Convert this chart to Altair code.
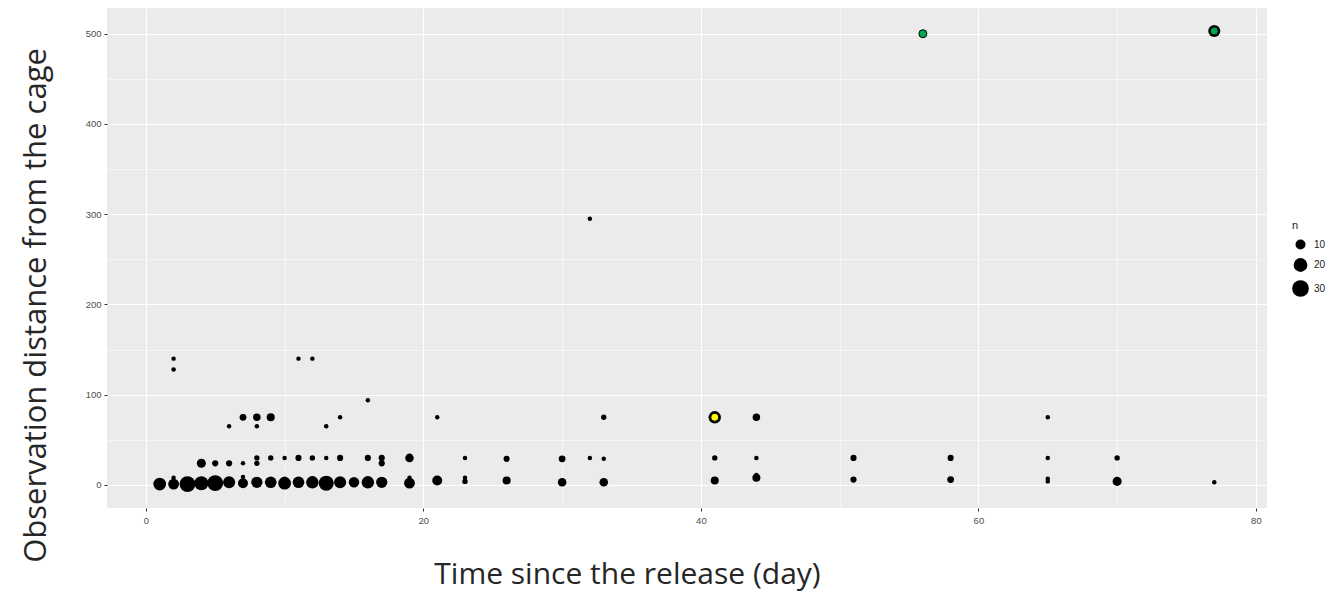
import altair as alt
import pandas as pd

# Main observations: day since release, distance from cage, count n
DAY = [1, 2, 3, 4, 5, 6, 7, 8, 9, 10, 11, 12, 13, 14, 15, 16, 17, 19, 21, 23,
       26, 30, 33, 41, 44, 51, 58, 65, 70, 77,
       2, 7, 10, 12, 19, 23, 44, 65,
       4, 5, 6, 7, 8, 8, 9, 10, 11, 12, 13, 14, 16, 17, 17, 19, 23, 26, 30, 32,
       33, 41, 44, 51, 58, 65, 70,
       2, 2, 6, 7, 8, 8, 9, 11, 12, 13, 14, 16, 21, 32, 33, 41, 44, 56, 65, 77]
DIST = [1, 1, 1, 2, 2, 3, 2, 3, 3, 2, 3, 3, 2, 3, 3, 3, 3, 2, 5, 4,
        5, 3, 3, 5, 8, 6, 6, 4, 4, 3,
        8, 9, 7, 7, 8, 8, 11, 7,
        24, 24, 24, 24, 24, 30, 30, 30, 30, 30, 30, 30, 30, 30, 24, 30, 30, 29, 29, 30,
        29, 30, 30, 30, 30, 30, 30,
        140, 128, 65, 75, 75, 65, 75, 140, 140, 65, 75, 94, 75, 295, 75, 75, 75, 500, 75, 503]
N = [17, 12, 27, 21, 27, 15, 10, 13, 14, 17, 14, 16, 24, 15, 11, 16, 13, 12, 10, 2,
     6, 7, 7, 6, 6, 3, 4, 1, 8, 1,
     1, 1, 1, 1, 1, 1, 1, 1,
     8, 3, 3, 1, 2, 2, 2, 1, 3, 2, 1, 3, 3, 3, 3, 7, 1, 3, 4, 1,
     1, 2, 1, 3, 3, 1, 2,
     1, 1, 1, 4, 5, 1, 6, 1, 1, 1, 1, 1, 1, 1, 2, 16, 5, 1, 1, 15]

# Highlighted observations
HL_DAY = [41, 56, 77]
HL_DIST = [75, 500, 503]
HL_FILL = ["#FFFF00", "#00A651", "#00A651"]

X_GRID = [0, 10, 20, 30, 40, 50, 60, 70, 80]
Y_GRID = [0, 50, 100, 150, 200, 250, 300, 350, 400, 450, 500]
LEGEND_VALUES = [10, 20, 30]

df = pd.DataFrame({"day": DAY, "dist": DIST, "n": N})
hdf = pd.DataFrame({"day": HL_DAY, "dist": HL_DIST, "fill": HL_FILL})

TICK_FONT = "Liberation Sans"
TITLE_FONT = "Open Sans"

x_axis = alt.Axis(
    values=X_GRID,
    labelExpr="datum.value % 20 === 0 ? datum.label : ''",
    gridColor="white",
    gridWidth={"condition": {"test": "datum.value % 20 === 0", "value": 1.1}, "value": 0.5},
    tickOpacity={"condition": {"test": "datum.value % 20 === 0", "value": 1}, "value": 0},
    tickColor="#333333",
    tickSize=3,
    labelPadding=4,
    labelFont=TICK_FONT,
    labelFontSize=9.5,
    labelColor="#4D4D4D",
    domain=False,
    title="Time since the release (day)",
    titleFont=TITLE_FONT,
    titleFontSize=30,
    titleFontWeight="normal",
    titleColor="#262626",
    titleX=520,
    titleY=75,
    titleAlign="center",
    titleBaseline="alphabetic",
)

y_axis = alt.Axis(
    values=Y_GRID,
    labelExpr="datum.value % 100 === 0 ? datum.label : ''",
    gridColor="white",
    gridWidth={"condition": {"test": "datum.value % 100 === 0", "value": 1.1}, "value": 0.5},
    tickOpacity={"condition": {"test": "datum.value % 100 === 0", "value": 1}, "value": 0},
    tickColor="#333333",
    tickSize=3,
    labelPadding=3,
    labelFont=TICK_FONT,
    labelFontSize=9.5,
    labelColor="#4D4D4D",
    domain=False,
    title="Observation distance from the cage",
    titleFont=TITLE_FONT,
    titleFontSize=31,
    titleFontWeight="normal",
    titleColor="#262626",
    titleAngle=270,
    titleX=-62,
    titleY=297,
    titleAlign="center",
    titleBaseline="alphabetic",
)

x_scale = alt.Scale(domain=[-2.8, 80.8], nice=False, zero=False)
y_scale = alt.Scale(domain=[-25.5, 528.5], nice=False, zero=False)

points = alt.Chart(df).mark_circle(color="black", opacity=1).encode(
    x=alt.X("day:Q", scale=x_scale, axis=x_axis),
    y=alt.Y("dist:Q", scale=y_scale, axis=y_axis),
    size=alt.Size(
        "n:Q",
        scale=alt.Scale(domain=[1, 30], range=[20, 279], zero=False),
        legend=alt.Legend(
            title="n",
            values=LEGEND_VALUES,
            orient="none",
            legendX=1185,
            legendY=212,
            titleFont=TICK_FONT,
            titleFontSize=11,
            titleFontWeight="normal",
            titleColor="#1A1A1A",
            titlePadding=8,
            labelFont=TICK_FONT,
            labelFontSize=10,
            labelColor="#1A1A1A",
            labelOffset=5,
            symbolType="circle",
            symbolFillColor="black",
            symbolStrokeWidth=0,
            rowPadding=8,
        ),
    ),
)

highlight = alt.Chart(hdf).mark_point(
    shape="circle", filled=True, size=64, stroke="black", strokeWidth=1, opacity=1
).encode(
    x=alt.X("day:Q", scale=x_scale),
    y=alt.Y("dist:Q", scale=y_scale),
    fill=alt.Fill("fill:N", scale=None, legend=None),
)

chart = (
    alt.layer(points, highlight)
    .properties(
        width=1160,
        height=500,
        padding={"left": 107, "top": 8, "right": 69, "bottom": 86},
        autosize=alt.AutoSizeParams(type="none"),
        background="white",
    )
    .configure_view(fill="#EBEBEB", strokeWidth=0)
)

chart.save("out.html", embed_options={"renderer": "svg", "actions": False})
